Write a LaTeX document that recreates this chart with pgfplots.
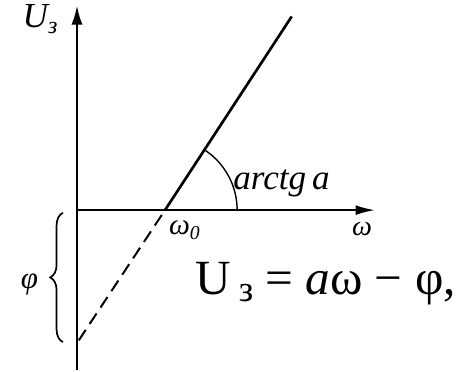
\documentclass[border=0pt]{standalone}
\usepackage{fontspec}
\setmainfont{Liberation Serif}
\usepackage{pgfplots}
\pgfplotsset{compat=1.18}
\usetikzlibrary{decorations.pathreplacing,arrows.meta}

\begin{document}
\begin{tikzpicture}
\begin{axis}[
  scale only axis,
  width=11.45cm, height=9.25cm,
  xmin=-0.875, xmax=4.33,
  ymin=-1.818, ymax=2.386,
  hide axis,
  clip=false,
]
% keep the full plotting area as the picture's extent
\path (rel axis cs:0,0) rectangle (rel axis cs:1,1);

% coordinate axes
\draw[line width=2pt,-{Latex[length=14pt,width=8pt]}] (axis cs:0,-1.818) -- (axis cs:0,2.33);
\draw[line width=1.6pt,-{Latex[length=14pt,width=7pt]}] (axis cs:0,0) -- (axis cs:3.39,0);

% characteristic U = a*omega - phi
\addplot[black, line width=1.9pt] coordinates {(1,0) (2.44,2.2)};
\addplot[black, line width=1.4pt, dash pattern=on 9pt off 5pt] coordinates {(0.02,-1.48) (1,0)};

% slope angle
\draw[line width=1pt] (axis cs:1.82,0) arc[start angle=0, end angle=56.8, radius=1.8cm];
\node[anchor=west, font=\itshape\fontsize{25}{26}\selectfont] at (axis cs:1.72,0.3) {arctg\,a};

% labels
\node[font=\itshape\fontsize{25}{26}\selectfont] at (axis cs:-0.42,2.17) {U\raisebox{-0.35ex}{\fontsize{17}{17}\selectfont з}};
\node[font=\itshape\fontsize{21}{22}\selectfont] at (axis cs:1.22,-0.23) {ω\raisebox{-0.35ex}{\fontsize{14}{14}\selectfont 0}};
\node[font=\itshape\fontsize{20}{20}\selectfont] at (axis cs:3.24,-0.21) {ω};

% intercept brace
\draw[line width=1.2pt, decorate, decoration={brace, amplitude=9pt}]
  (axis cs:-0.16,-1.5) -- (axis cs:-0.16,-0.03);
\node[font=\itshape\fontsize{22}{22}\selectfont] at (axis cs:-0.54,-0.84) {φ};

% equation
\node[anchor=west, inner sep=0pt, font=\fontsize{35}{38}\selectfont] at (axis cs:1.34,-0.84)
  {U\,\raisebox{-0.3ex}{\fontsize{26}{26}\selectfont з} = \textit{a}ω − φ,};
\end{axis}
\end{tikzpicture}
\end{document}
